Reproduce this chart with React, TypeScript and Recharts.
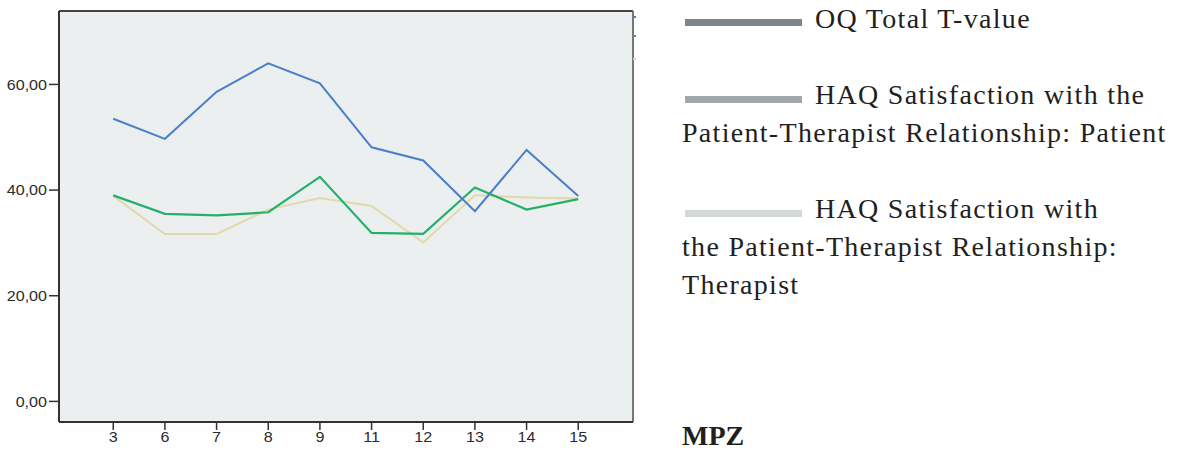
import React from "react"
import { LineChart, Line, XAxis, YAxis, CartesianGrid, ReferenceLine } from "recharts"

// MPZ (measurement points) on the x axis
const mpz: string[] = ["3", "6", "7", "8", "9", "11", "12", "13", "14", "15"]

const oqTotal: number[] = [53.5, 49.7, 58.6, 64.0, 60.2, 48.1, 45.6, 36.0, 47.6, 38.9]
const haqPatient: number[] = [39.0, 35.5, 35.2, 35.8, 42.5, 31.9, 31.7, 40.5, 36.3, 38.3]
const haqTherapist: number[] = [38.9, 31.7, 31.7, 36.3, 38.5, 37.0, 30.1, 39.0, 38.6, 38.4]

const yTicks: number[] = [0, 20, 40, 60]

const seriesNames: string[] = [
  "OQ Total T-value",
  "HAQ Satisfaction with the Patient-Therapist Relationship: Patient",
  "HAQ Satisfaction with the Patient-Therapist Relationship: Therapist",
]

// how the legend text breaks in the original figure
const legendLines: string[][] = [
  ["OQ Total T-value"],
  ["HAQ Satisfaction with the", "Patient-Therapist Relationship: Patient"],
  ["HAQ Satisfaction with", "the Patient-Therapist Relationship:", "Therapist"],
]

const lineColors = ["#4a7fc9", "#25b06a", "#e2d9a8"]
const swatchColors = ["#7f868b", "#a2a8aa", "#d3d9d8"]

const data = mpz.map((m, i) => ({
  idx: i,
  label: m,
  oq: oqTotal[i],
  patient: haqPatient[i],
  therapist: haqTherapist[i],
}))

const X_DOMAIN: [number, number] = [-1.05, 10.06]
const Y_DOMAIN: [number, number] = [-3.9, 73.9]

const tickFont = "'Liberation Sans', Arial, sans-serif"

const YTick = (props: any) => {
  const { x, y, payload } = props
  return (
    <text
      transform={`translate(${x},${y}) scale(1.15,1)`}
      textAnchor="end"
      dominantBaseline="central"
      fontFamily={tickFont}
      fontSize={14}
      fill="#2b2b2b"
    >
      {Number(payload.value).toFixed(2).replace(".", ",")}
    </text>
  )
}

const XTick = (props: any) => {
  const { x, y, payload } = props
  return (
    <text
      transform={`translate(${x},${y}) scale(1.15,1)`}
      textAnchor="middle"
      dy="0.71em"
      fontFamily={tickFont}
      fontSize={14}
      fill="#2b2b2b"
    >
      {mpz[payload.value]}
    </text>
  )
}

const legendTops = [0, 75.6, 190]
const swatchCenters = [22.8, 99, 213]

const serif = "'Liberation Serif', 'Times New Roman', serif"

export default function App() {
  return (
    <div style={{ position: "absolute", left: 0, top: 0, width: 1188, height: 450, background: "#fff" }}>
      <LineChart width={640} height={450} data={data} margin={{ top: 11, right: 7, bottom: 0, left: 0 }}>
        <CartesianGrid fill="#ebeff0" horizontal={false} vertical={false} />
        <XAxis
          type="number"
          dataKey="idx"
          domain={X_DOMAIN}
          allowDataOverflow
          ticks={mpz.map((_, i) => i)}
          tick={<XTick />}
          tickSize={8}
          height={28}
          axisLine={{ stroke: "#333", strokeWidth: 2 }}
          tickLine={{ stroke: "#333", strokeWidth: 1.5 }}
        />
        <YAxis
          type="number"
          domain={Y_DOMAIN}
          allowDataOverflow
          ticks={yTicks}
          tick={<YTick />}
          tickSize={10}
          width={59}
          axisLine={{ stroke: "#333", strokeWidth: 2 }}
          tickLine={{ stroke: "#333", strokeWidth: 1.5 }}
        />
        <ReferenceLine y={Y_DOMAIN[1]} stroke="#444" strokeWidth={2} />
        <ReferenceLine x={X_DOMAIN[1]} stroke="#777" strokeWidth={2} />
        <Line
          dataKey="therapist"
          name={seriesNames[2]}
          stroke={lineColors[2]}
          strokeWidth={2}
          dot={false}
          isAnimationActive={false}
        />
        <Line
          dataKey="patient"
          name={seriesNames[1]}
          stroke={lineColors[1]}
          strokeWidth={2.2}
          dot={false}
          isAnimationActive={false}
        />
        <Line
          dataKey="oq"
          name={seriesNames[0]}
          stroke={lineColors[0]}
          strokeWidth={2}
          dot={false}
          isAnimationActive={false}
        />
      </LineChart>

      {/* bits of a cropped legend at the right edge of the plot frame */}
      {[17.3, 35.7, 59].map((t, i) => (
        <div
          key={`stub-${i}`}
          style={{ position: "absolute", left: 633, top: t - 1, width: 3, height: 2, background: lineColors[i] }}
        />
      ))}

      {legendLines.map((lines, i) => (
        <div key={`leg-${i}`}>
          <div
            style={{
              position: "absolute",
              left: 685,
              top: swatchCenters[i] - 3.5,
              width: 117,
              height: 7,
              background: swatchColors[i],
            }}
          />
          <div
            style={{
              position: "absolute",
              left: 682,
              top: legendTops[i],
              width: 506,
              fontFamily: serif,
              fontSize: 28,
              lineHeight: "38px",
              letterSpacing: 1.3,
              color: "#231f20",
              whiteSpace: "nowrap",
            }}
          >
            {lines.map((l, j) => (
              <div key={j} style={{ paddingLeft: j === 0 ? 133 : 0 }}>
                {l}
              </div>
            ))}
          </div>
        </div>
      ))}

      <div
        style={{
          position: "absolute",
          left: 682,
          top: 416.6,
          fontFamily: serif,
          fontSize: 28,
          lineHeight: "38px",
          fontWeight: "bold",
          color: "#231f20",
        }}
      >
        MPZ
      </div>
    </div>
  )
}
